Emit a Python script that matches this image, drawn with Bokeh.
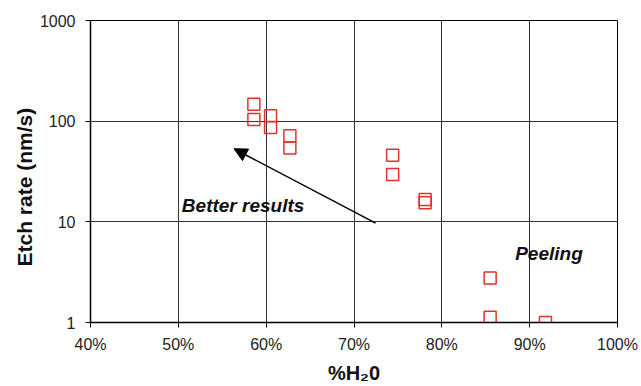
import math
from bokeh.plotting import figure
from bokeh.models import (FixedTicker, Arrow, NormalHead, Label, Range1d, Title)
from bokeh.embed import file_html
from bokeh.resources import INLINE

# Data
h2o_pct = [58.6, 58.6, 60.5, 60.5, 62.7, 62.7, 74.4, 74.4, 78.1, 78.1, 85.5, 85.5, 91.8]
etch_rate = [147, 104, 113, 86.5, 71.6, 54, 45.8, 29.6, 16.7, 15.5, 2.77, 1.13, 1.0]

x_ticks = [40, 50, 60, 70, 80, 90, 100]
x_tick_labels = ["40%", "50%", "60%", "70%", "80%", "90%", "100%"]
y_ticks = [1, 10, 100, 1000]
y_tick_labels = ["1", "10", "100", "1000"]

arrow_from = (72.46, 9.7)
arrow_to = (56.34, 53.2)
note_better = ("Better results", 50.4, 14.6)
note_peeling = ("Peeling", 88.35, 4.82)

FONT = "Liberation Sans"
RED = "#e4322b"

p = figure(width=641, height=386, y_axis_type="log",
           x_range=Range1d(40, 100), y_range=Range1d(1, 1000),
           output_backend="svg", toolbar_location=None,
           min_border_left=90, min_border_right=24,
           min_border_top=20, min_border_bottom=62)
p.background_fill_color = "white"
p.border_fill_color = "white"
p.outline_line_color = "black"
p.outline_line_width = 1

# grids
p.xgrid.ticker = FixedTicker(ticks=x_ticks)
p.ygrid.ticker = FixedTicker(ticks=y_ticks)
for g in (p.xgrid, p.ygrid):
    g.grid_line_color = "#333333"
    g.grid_line_width = 1
    g.grid_line_alpha = 1

# x axis
xa = p.xaxis[0]
xa.ticker = FixedTicker(ticks=x_ticks)
xa.major_label_overrides = {t: l for t, l in zip(x_ticks, x_tick_labels)}
xa.axis_label = "%H\u20820"
xa.axis_label_text_font = FONT
xa.axis_label_text_font_style = "bold"
xa.axis_label_text_font_size = "20px"
xa.axis_label_text_color = "#111111"
xa.axis_label_standoff = 6

# y axis
ya = p.yaxis[0]
ya.ticker = FixedTicker(ticks=y_ticks)
ya.major_label_overrides = {t: l for t, l in zip(y_ticks, y_tick_labels)}

for ax in (xa, ya):
    ax.axis_line_color = "black"
    ax.axis_line_width = 1.5
    ax.major_tick_line_color = "black"
    ax.major_tick_in = 0
    ax.major_tick_out = 5
    ax.minor_tick_line_color = None
    ax.major_label_text_font = FONT
    ax.major_label_text_font_size = "16px"
    ax.major_label_text_color = "#222222"
xa.major_label_standoff = 8
ya.major_label_standoff = 10

# y axis title, starting a little above the frame bottom
p.add_layout(Title(text="Etch rate (nm/s)", align="left", offset=56,
                   text_font=FONT, text_font_style="bold",
                   text_font_size="21px", text_color="#111111",
                   standoff=2), "left")

# data points
r = p.scatter(h2o_pct, etch_rate, marker="square", size=12,
              fill_color=None, line_color=RED, line_width=1.5)

# arrow
p.add_layout(Arrow(end=NormalHead(size=13, fill_color="black", line_color="black"),
                   x_start=arrow_from[0], y_start=arrow_from[1],
                   x_end=arrow_to[0], y_end=arrow_to[1],
                   line_color="black", line_width=1.5))

# annotations
for txt, x, y in (note_better, note_peeling):
    p.add_layout(Label(x=x, y=y, text=txt, text_font=FONT,
                       text_font_style="bold italic", text_font_size="19px",
                       text_align="left", text_baseline="alphabetic",
                       text_color="#111111"))

open("out.html", "w").write(file_html(p, INLINE))
